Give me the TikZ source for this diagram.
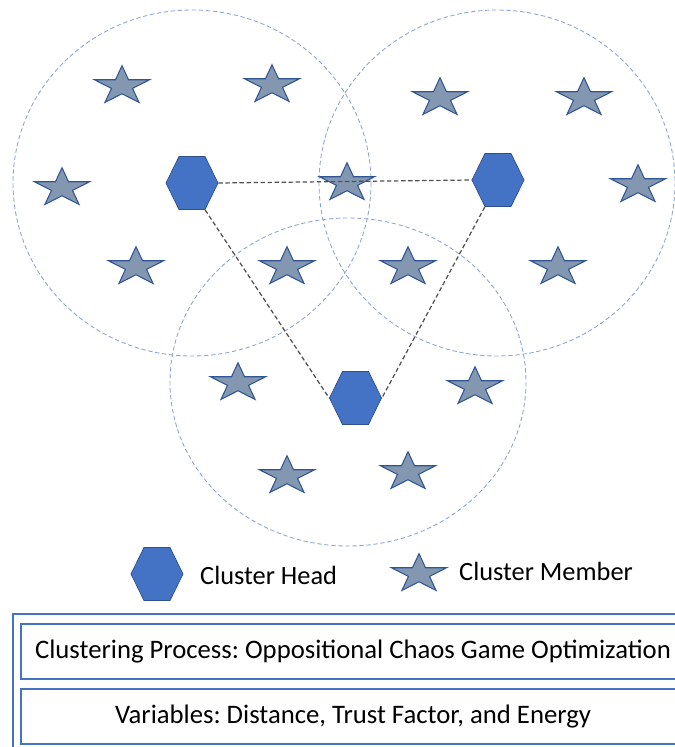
\documentclass[tikz,border=0pt]{standalone}
\usepackage{fontspec}
\setmainfont{Carlito}
\frenchspacing
\usetikzlibrary{shapes.geometric}
\definecolor{headblue}{HTML}{4472C4}
\definecolor{headedge}{HTML}{2F528F}
\definecolor{memberfill}{HTML}{8497B0}
\definecolor{memberedge}{HTML}{2F5597}
\definecolor{zoneline}{HTML}{8FA6CF}
\definecolor{linkgray}{HTML}{505050}
\tikzset{
	head/.style={regular polygon, regular polygon sides=6, minimum size=1.04cm, inner sep=0pt, yscale=1.18, fill=headblue, draw=headedge, line width=0.4pt},
	member/.style={star, star points=5, star point ratio=2.618, minimum size=1.16cm, inner sep=0pt, yscale=0.7, fill=memberfill, draw=memberedge, line width=0.6pt},
	zone/.style={draw=zoneline, dash pattern=on 2.5pt off 1.5pt, line width=0.5pt},
	link/.style={draw=linkgray, dash pattern=on 2.5pt off 1.5pt, line width=0.7pt},
	label/.style={anchor=west, font=\fontsize{15}{18}\selectfont},
	box/.style={draw=headblue, line width=0.8pt, minimum width=13.28cm, minimum height=1.1cm, inner sep=0pt, font=\fontsize{15.2}{18}\selectfont},
}
\begin{document}
\begin{tikzpicture}[x=0.02cm, y=-0.02cm]
	\useasboundingbox (0,0) rectangle (675,747);
	\clip (0,0) rectangle (675,747);
	\draw[zone] (192,183) ellipse [x radius=179, y radius=173];
	\draw[zone] (497,183) ellipse [x radius=178, y radius=173];
	\draw[zone] (348,382) ellipse [x radius=178, y radius=164];
	\foreach \x/\y [count=\i] in {122/86, 272/85, 62/188, 136/267, 287/267, 347/183, 440/98, 584/98, 638/185, 408/267, 558/267, 238/383, 475/387, 287/476, 408/472}
		\node[member] (m\i) at (\x,\y) {};
	\node[head] (h1) at (192,183) {};
	\node[head] (h2) at (498,180) {};
	\node[head] (h3) at (355.5,398) {};
	\draw[link] (h1.east) -- (h2.west);
	\draw[link] (h1.corner 5) -- (h3.west);
	\draw[link] (h2.corner 4) -- (h3.east);
	\node[head] (keyhead) at (157,574) {};
	\node[label] (keyheadtext) at (194,575) {Cluster Head};
	\node[member] (keymember) at (419,574) {};
	\node[label] (keymembertext) at (453,571) {Cluster Member};
	\draw[draw=headblue, line width=0.8pt] (13,614) rectangle (697,760);
	\node[box] (process) at (353,651.5) {Clustering Process: Oppositional Chaos Game Optimization};
	\node[box] (variables) at (353,716.5) {Variables: Distance, Trust Factor, and Energy};
\end{tikzpicture}
\end{document}
